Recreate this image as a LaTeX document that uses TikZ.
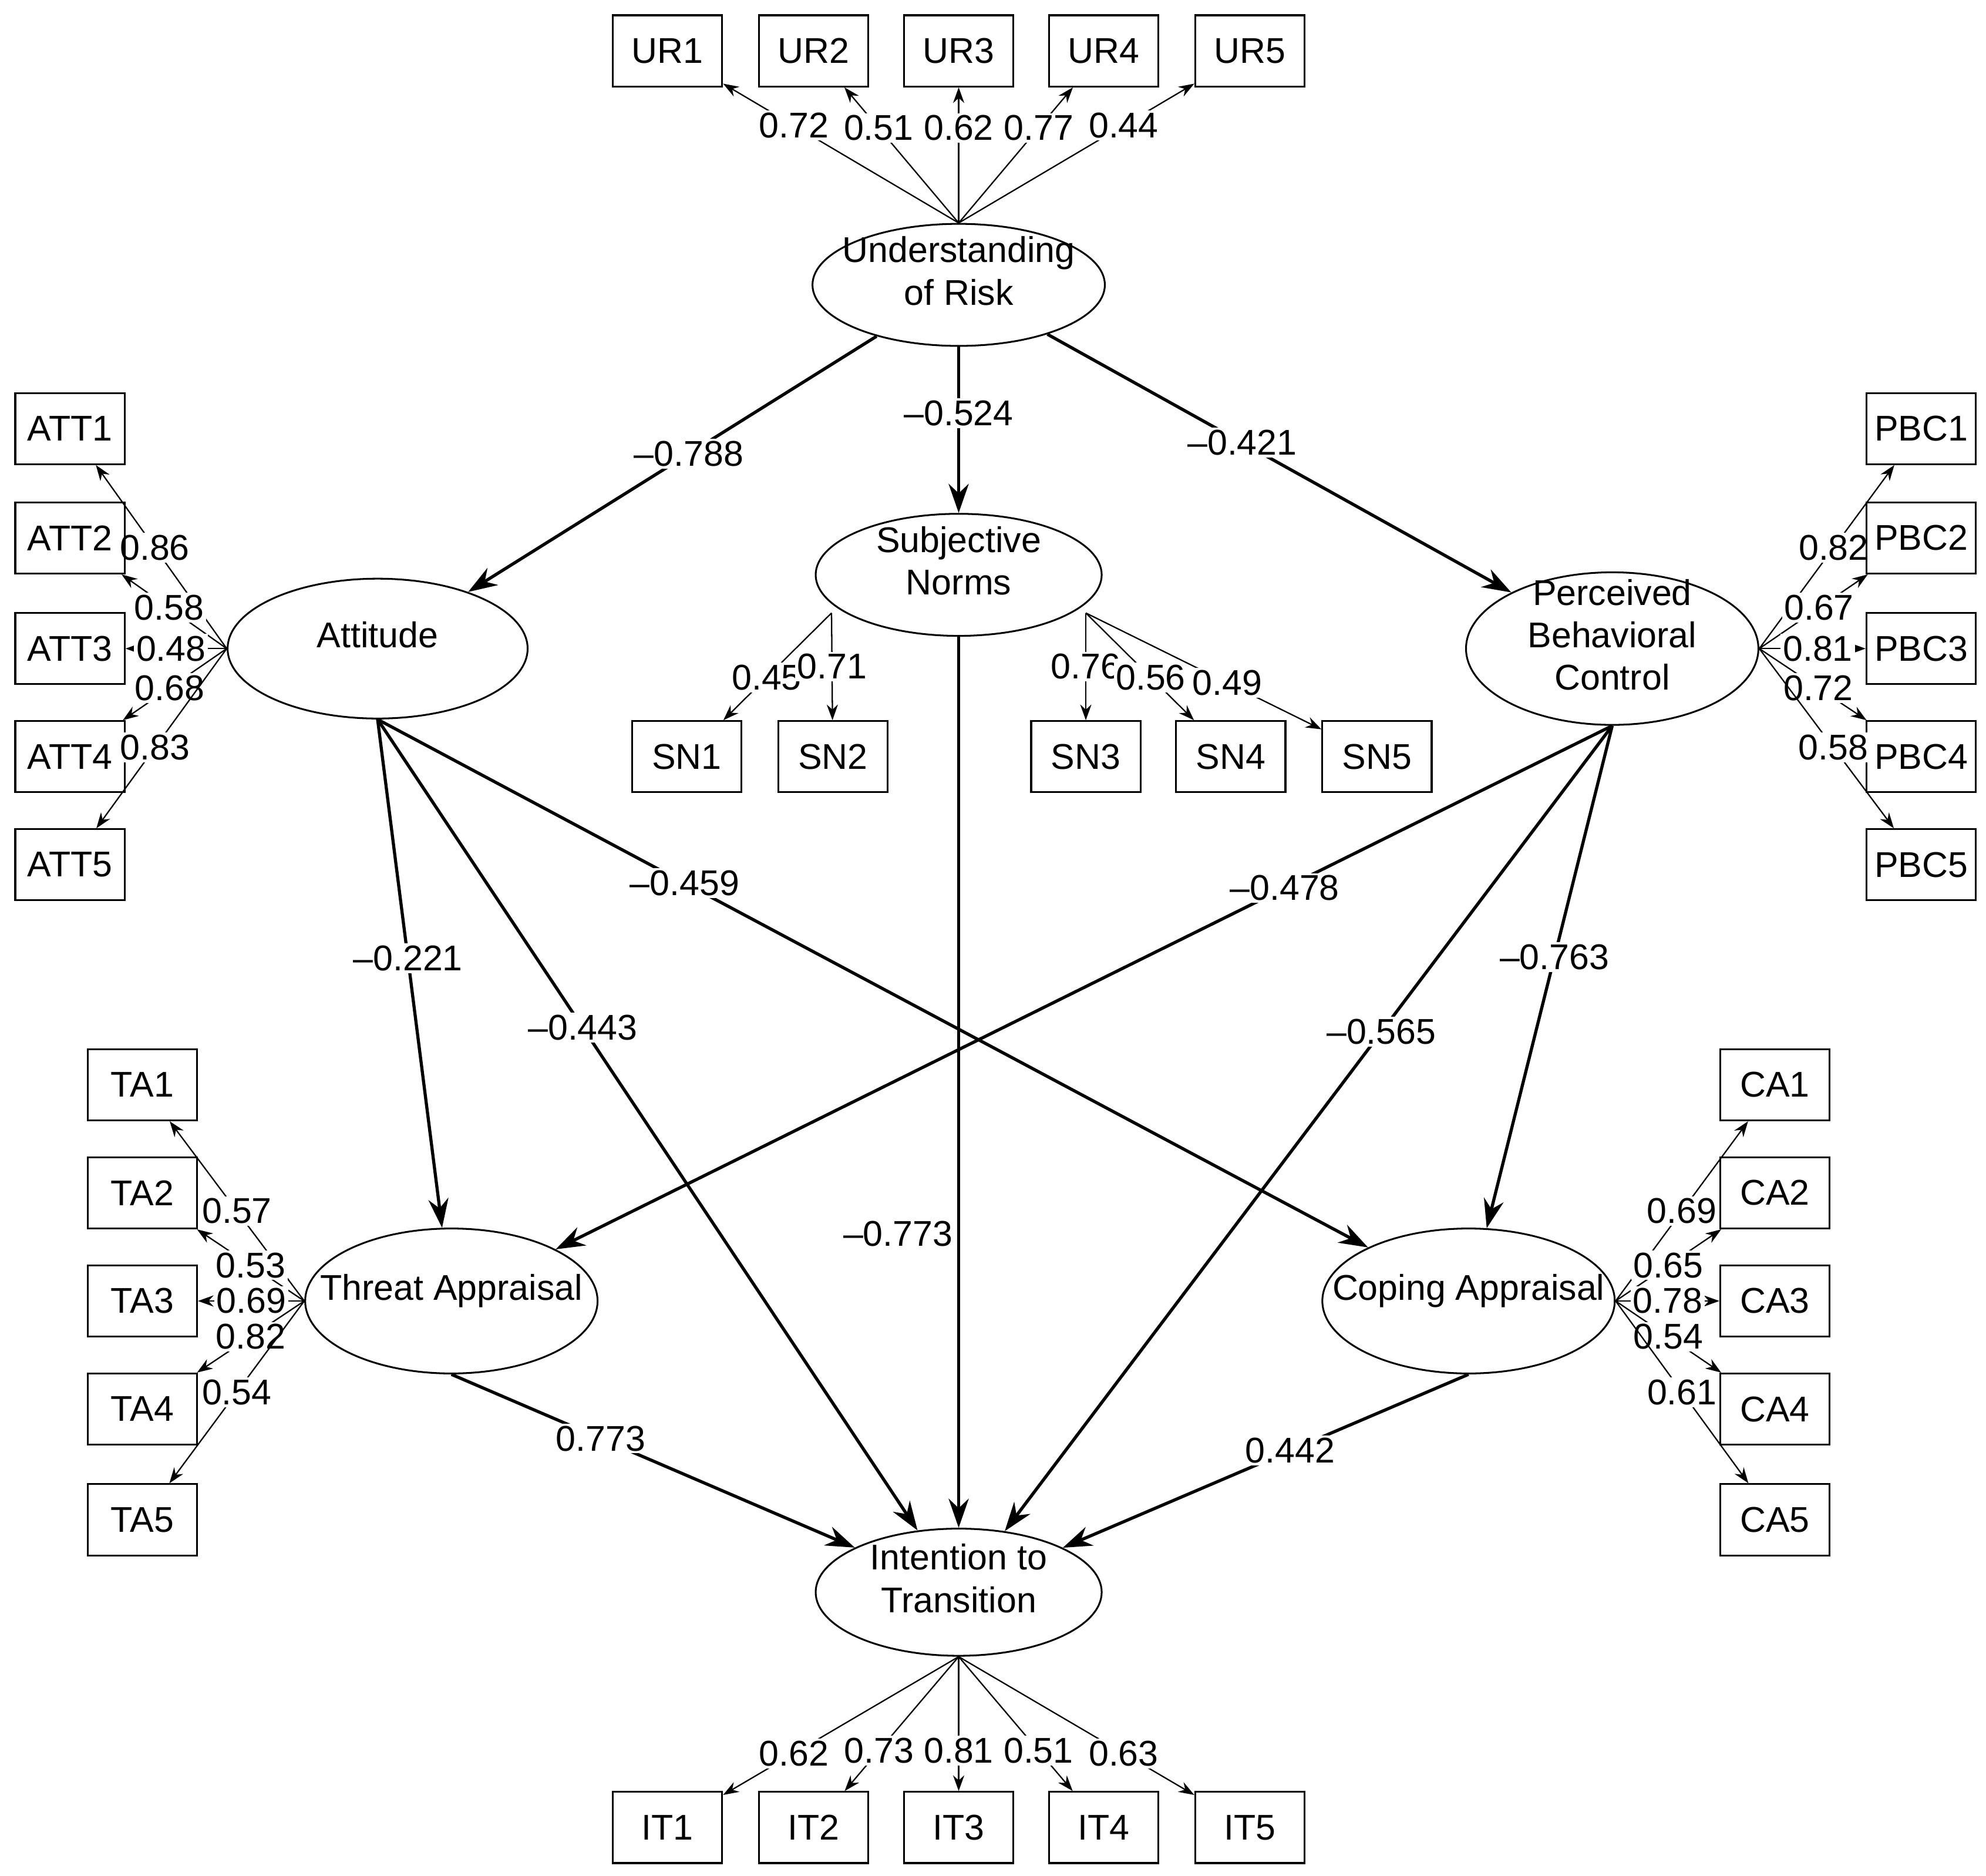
\documentclass[tikz,border=0pt]{standalone}
\usepackage{fontspec}
\setmainfont{Liberation Sans}
\usetikzlibrary{shapes.geometric, arrows.meta}
\newcommand{\latxt}[1]{\makebox[0pt]{\smash{\begin{tabular}{@{}c@{}}#1\end{tabular}}}}

\begin{document}
\begin{tikzpicture}[x=0.02cm, y=-0.02cm, font=\fontsize{16}{19}\selectfont,
	ind/.style={draw, thick, rectangle, minimum width=1.72cm, minimum height=1.12cm, inner sep=0pt},
	lat/.style={draw, thick, ellipse, inner sep=0pt},
	load/.style={-{Stealth[length=7pt, width=5pt]}, line width=0.6pt},
	path/.style={-{Stealth[length=13pt, width=9pt]}, line width=1.4pt},
	val/.style={fill=white, inner sep=1pt}]

% Define bounding box.

	\useasboundingbox (0,0) rectangle (1562,1475);

% Draw latent variables.

	\node[lat, minimum width=4.6cm, minimum height=1.92cm] (ur) at (754,224) {\latxt{Understanding\\of Risk}};
	\node[lat, minimum width=4.5cm, minimum height=1.92cm] (sn) at (754,452) {\latxt{Subjective\\Norms}};
	\node[lat, minimum width=4.72cm, minimum height=2.2cm] (att) at (297,510) {\latxt{Attitude}};
	\node[lat, minimum width=4.6cm, minimum height=2.4cm] (pbc) at (1268,510) {\latxt{Perceived\\Behavioral\\Control}};
	\node[lat, minimum width=4.6cm, minimum height=2.28cm] (ta) at (355,1023) {\latxt{Threat Appraisal}};
	\node[lat, minimum width=4.6cm, minimum height=2.28cm] (ca) at (1155,1023) {\latxt{Coping Appraisal}};
	\node[lat, minimum width=4.5cm, minimum height=2cm] (it) at (754,1252) {\latxt{Intention to\\Transition}};

% Anchor points for loadings.

	\coordinate (urT) at (ur.north);
	\coordinate (attW) at (att.west);
	\coordinate (pbcE) at (pbc.east);
	\coordinate (taW) at (ta.west);
	\coordinate (caE) at (ca.east);
	\coordinate (itB) at (it.south);
	\coordinate (snL) at (654,482);
	\coordinate (snR) at (854,482);

% Draw indicators and loadings.

	\foreach \i/\x/\v in {1/525/0.72, 2/640/0.51, 3/754/0.62, 4/868/0.77, 5/983/0.44} {
		\node[ind] (ur\i) at (\x,40) {UR\i};
		\draw[load] (urT) -- (ur\i) node[val, pos=0.7] {\v};
	}
	\foreach \i/\x/\v in {1/525/0.62, 2/640/0.73, 3/754/0.81, 4/868/0.51, 5/983/0.63} {
		\node[ind] (it\i) at (\x,1437) {IT\i};
		\draw[load] (itB) -- (it\i) node[val, pos=0.7] {\v};
	}
	\foreach \i/\y/\v in {1/337/0.86, 2/423/0.58, 3/510/0.48, 4/595/0.68, 5/680/0.83} {
		\node[ind] (att\i) at (55,\y) {ATT\i};
		\draw[load] (attW) -- (att\i) node[val, pos=0.55] {\v};
	}
	\foreach \i/\y/\v in {1/337/0.82, 2/423/0.67, 3/510/0.81, 4/595/0.72, 5/680/0.58} {
		\node[ind] (pbc\i) at (1511,\y) {PBC\i};
		\draw[load] (pbcE) -- (pbc\i) node[val, pos=0.55] {\v};
	}
	\foreach \i/\y/\v in {1/853/0.57, 2/938/0.53, 3/1023/0.69, 4/1108/0.82, 5/1195/0.54} {
		\node[ind] (ta\i) at (112,\y) {TA\i};
		\draw[load] (taW) -- (ta\i) node[val, pos=0.5] {\v};
	}
	\foreach \i/\y/\v in {1/853/0.69, 2/938/0.65, 3/1023/0.78, 4/1108/0.54, 5/1195/0.61} {
		\node[ind] (ca\i) at (1396,\y) {CA\i};
		\draw[load] (caE) -- (ca\i) node[val, pos=0.5] {\v};
	}

	\node[ind] (sn1) at (540,595) {SN1};
	\node[ind] (sn2) at (655,595) {SN2};
	\node[ind] (sn3) at (854,595) {SN3};
	\node[ind] (sn4) at (968,595) {SN4};
	\node[ind] (sn5) at (1083,595) {SN5};
	\draw[load] (snL) -- (sn1) node[val, pos=0.6] {0.45};
	\draw[load] (snL) -- (sn2) node[val, pos=0.5] {0.71};
	\draw[load] (snR) -- (sn3) node[val, pos=0.5] {0.76};
	\draw[load] (snR) -- (sn4) node[val, pos=0.6] {0.56};
	\draw[load] (snR) -- (sn5) node[val, pos=0.6] {0.49};

% Draw structural paths.

	\draw[path] (ur) -- (att) node[val, pos=0.46] {--0.788};
	\draw[path] (ur) -- (sn) node[val, pos=0.4] {--0.524};
	\draw[path] (ur) -- (pbc) node[val, pos=0.42] {--0.421};
	\draw[path] (att.south) -- (ta) node[val, pos=0.47] {--0.221};
	\draw[path] (att.south) -- (it) node[val, pos=0.38] {--0.443};
	\draw[path] (att.south) -- (ca) node[val, pos=0.31] {--0.459};
	\draw[path] (pbc.south) -- (ta) node[val, pos=0.31] {--0.478};
	\draw[path] (pbc.south) -- (it) node[val, pos=0.38] {--0.565};
	\draw[path] (pbc.south) -- (ca) node[val, pos=0.46] {--0.763};
	\draw[path] (sn.south) -- (it) node[pos=0.67, left, inner sep=2pt] {--0.773};
	\draw[path] (ta.south) -- (it) node[val, pos=0.37] {0.773};
	\draw[path] (ca.south) -- (it) node[val, pos=0.44] {0.442};

\end{tikzpicture}
\end{document}
